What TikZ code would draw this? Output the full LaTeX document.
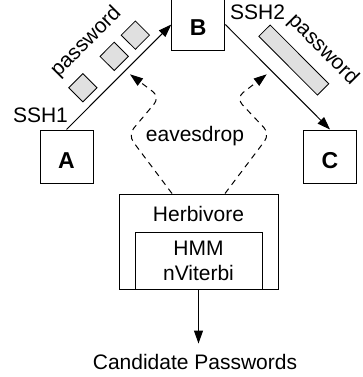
\documentclass[tikz,border=0pt]{standalone}
\usepackage{fontspec}
\setmainfont{Liberation Sans}
\usetikzlibrary{arrows.meta}
\tikzset{>={Triangle[width=9pt,length=13pt]}}
\definecolor{pktgray}{HTML}{E0E0E0}
\newcommand{\BIGTXT}{\fontsize{21}{25}\selectfont}

\begin{document}
\begin{tikzpicture}[x=1pt,y=1pt,
  every node/.style={font=\BIGTXT},
  host/.style={draw,line width=1pt,minimum size=53pt,inner sep=0pt,
    font=\fontsize{23}{27}\selectfont\bfseries,text height=23pt,text depth=0pt},
  box/.style={draw,line width=1pt,inner sep=0pt},
  pkt/.style={draw,fill=pktgray,line width=0.8pt,inner sep=0pt},
  pwtxt/.style={sloped,inner sep=1pt},
  link/.style={->,line width=1pt},
  eaves/.style={->,line width=1pt,dash pattern=on 6pt off 5pt,rounded corners=9pt}]

  \useasboundingbox (0,0) rectangle (362,-377);

  \node[host] (A) at (66.5,-156.5) {A};
  \node[host] (B) at (198.3,-24.5) {B};
  \node[host] (C) at (330,-156.5) {C};

  \node[anchor=base] (ssh1) at (40.5,-122) {SSH1};
  \node[anchor=base] (ssh2) at (257.5,-19.3) {SSH2};

  \draw[link] (A.north) -- (B.west)
    node[pkt,sloped,pos=0.277,above=7.5pt,minimum size=20pt] {}
    node[pkt,sloped,pos=0.576,above=7.5pt,minimum size=20pt] {}
    node[pkt,sloped,pos=0.778,above=7.5pt,minimum size=20pt] {}
    node[pwtxt,pos=0.511,above=36.3pt] {password};

  \draw[link] (B.east) -- (C.north)
    node[pkt,sloped,pos=0.496,above=15pt,minimum width=83pt,minimum height=16pt] {}
    node[pwtxt,pos=0.585,above=40pt] {password};

  % Herbivore
  \node[box,minimum width=127pt,minimum height=57pt,align=center]
    (hmm) at (198.5,-260.5) {HMM\\nViterbi};
  \node[box,minimum width=159pt,minimum height=95pt,anchor=south,
    label={[anchor=base,yshift=-28.3pt]north:Herbivore}] (herb) at (hmm.south) {};

  \node[anchor=base] (evd) at (195,-141.7) {eavesdrop};

  \coordinate (bendL1) at (128,-135);
  \coordinate (bendL2) at (160,-97);
  \coordinate (tapL) at (130,-74.3);
  \coordinate (bendR1) at (270,-134);
  \coordinate (bendR2) at (236,-98);
  \coordinate (tapR) at (266.7,-74.3);
  \draw[eaves] ([xshift=-26.5pt]herb.north) -- (bendL1) -- (bendL2) -- (tapL);
  \draw[eaves] ([xshift=26.5pt]herb.north) -- (bendR1) -- (bendR2) -- (tapR);

  \node[anchor=base] (cand) at (195,-369.3) {Candidate Passwords};
  \draw[link,shorten >=7pt] (hmm.south) -- (hmm.south |- cand.north);

\end{tikzpicture}
\end{document}
